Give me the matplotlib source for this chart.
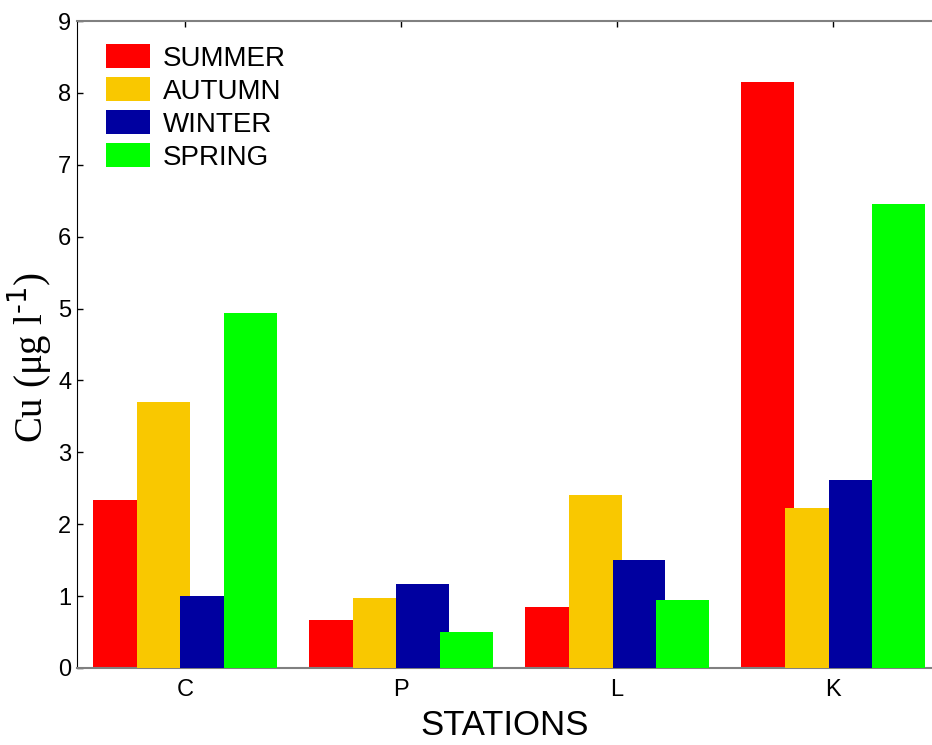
import numpy as np
import matplotlib.pyplot as plt
from matplotlib.patches import Patch

stations = ["C", "P", "L", "K"]
seasons = ["SUMMER", "AUTUMN", "WINTER", "SPRING"]
summer = [2.33, 0.67, 0.85, 8.15]
autumn = [3.70, 0.97, 2.41, 2.22]
winter = [1.00, 1.17, 1.50, 2.61]
spring = [4.94, 0.50, 0.95, 6.45]
colores = ["#ff0000", "#f9c800", "#0000a0", "#00ff00"]

W, H = 932, 745
fig = plt.figure(figsize=(W / 100, H / 100), dpi=100)
ax = fig.add_axes([77 / W, 1 - 668 / H, 1 - 77 / W, (668 - 21) / H])

x = np.arange(len(stations))
paso = 0.202
ancho = 0.245
series = [summer, autumn, winter, spring]
for i in range(4):
    izq = x - 0.425 + i * paso
    ax.bar(izq, series[i], width=ancho, align="edge", color=colores[i], linewidth=0, zorder=2 + i)

ax.set_xlim(-0.5, 3.458)
ax.set_ylim(0, 9)
ax.set_xticks(x)
ax.set_xticklabels(stations, fontsize=17, family="Liberation Sans")
ax.set_yticks(range(10))
ax.set_yticklabels([str(v) for v in range(10)], fontsize=17, family="Liberation Sans")
ax.tick_params(axis="both", direction="in", length=4, width=1, top=True)
ax.tick_params(axis="x", pad=8)
ax.tick_params(axis="y", pad=4)

ax.spines["right"].set_visible(False)
ax.spines["top"].set_color("#808080")
ax.spines["bottom"].set_color("#808080")
ax.spines["top"].set_linewidth(1.5)
ax.spines["bottom"].set_linewidth(1.5)
ax.spines["left"].set_color("black")

ax.set_xlabel("STATIONS", fontsize=25, family="Liberation Sans", labelpad=6)
ax.set_ylabel(r"Cu ($\mathregular{\mu}$g l$^{\text{-1}}$)", fontsize=28, family="Liberation Serif", labelpad=4)
ax.yaxis.label.set_y(0.48)

handles = [Patch(facecolor=c, edgecolor="none") for c in colores]
ax.legend(handles, seasons, loc="upper left", bbox_to_anchor=(106 / W, 1 - 44 / H),
          bbox_transform=fig.transFigure, frameon=False,
          prop={"family": "Liberation Sans", "size": 20},
          handlelength=1.58, handleheight=0.97, handletextpad=0.47,
          labelspacing=0.19, borderpad=0, borderaxespad=0)

fig.savefig("out.png", dpi=100)
